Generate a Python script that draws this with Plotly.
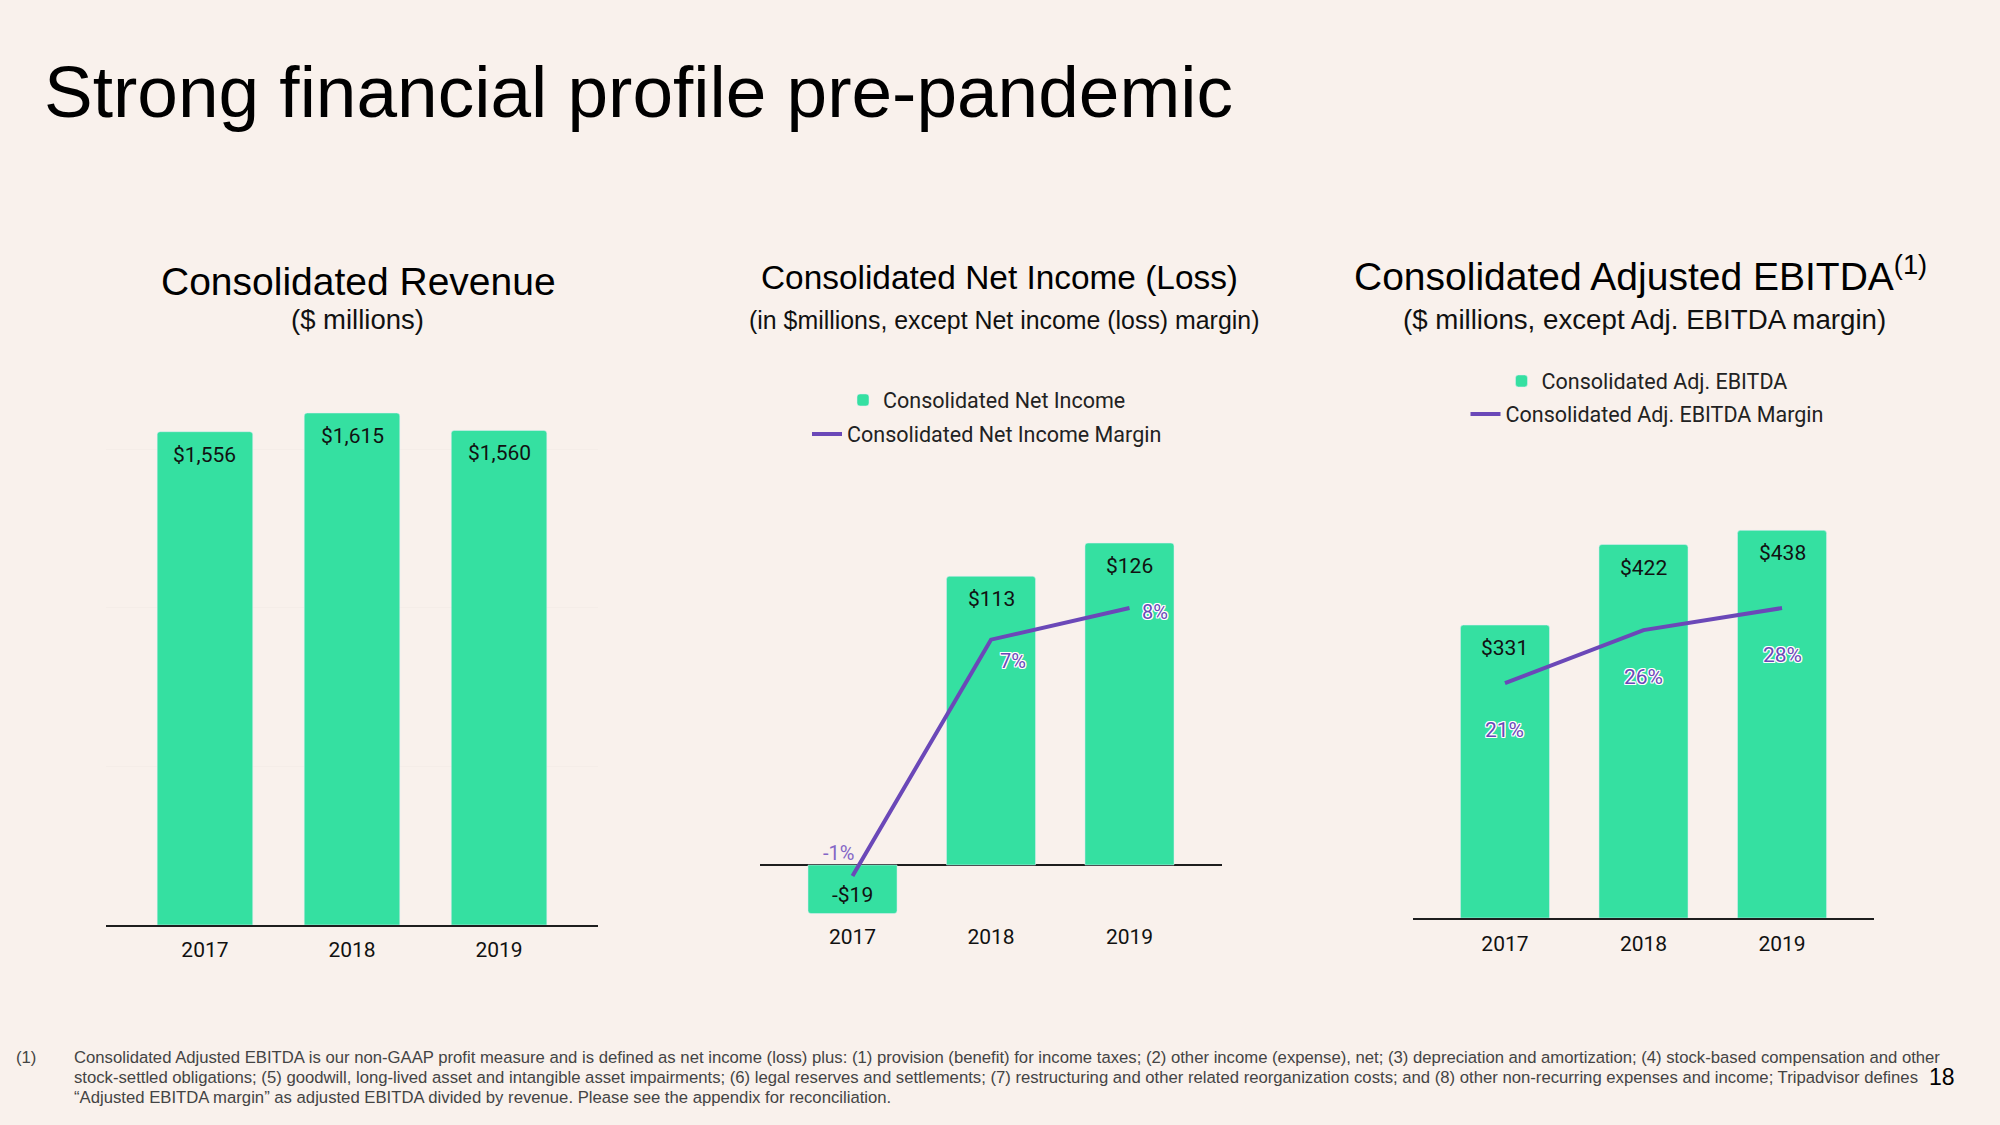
import plotly.graph_objects as go

# ---------------- data ----------------
years = ["2017", "2018", "2019"]
revenue = [1556, 1615, 1560]
net_income = [-19, 113, 126]
net_income_margin = [-1.2, 7.0, 8.1]
adj_ebitda = [331, 422, 438]
adj_ebitda_margin = [21.3, 26.1, 28.1]

# ---------------- styles ----------------
BG = "#F9F1EC"
GREEN = "#35E0A1"
PURPLE = "#6B48B8"
LIGHT_PURPLE = "#8466C6"
DARK = "#1E1E1E"
W, H = 2000, 1125
HEAD = "Liberation Sans, Arial, Helvetica, sans-serif"
BODY = "Roboto, Noto Sans, sans-serif"
OUTLINE = ("white 1px 1px 0, white -1px -1px 0, white 1px -1px 0, white -1px 1px 0, "
           "white 0 1px 0, white 0 -1px 0, white 1px 0 0, white -1px 0 0")


def px_x(p):
    return p / W


def px_y(p):
    return 1 - p / H


def money(v):
    return ("-$" if v < 0 else "$") + f"{abs(v):,}"


fig = go.Figure()

# Revenue
fig.add_trace(go.Bar(x=years, y=revenue, marker=dict(color=GREEN, cornerradius=3),
                     width=0.65, xaxis="x", yaxis="y", showlegend=False, hoverinfo="x+y"))
# Net income
fig.add_trace(go.Bar(x=years, y=net_income, name="Consolidated Net Income",
                     marker=dict(color=GREEN, cornerradius=3), width=0.643,
                     xaxis="x2", yaxis="y2", legend="legend"))
fig.add_trace(go.Scatter(x=years, y=net_income_margin, name="Consolidated Net Income Margin",
                         mode="lines", line=dict(color=PURPLE, width=4),
                         xaxis="x2", yaxis="y4", legend="legend2"))
# Adjusted EBITDA
fig.add_trace(go.Bar(x=years, y=adj_ebitda, name="Consolidated Adj. EBITDA",
                     marker=dict(color=GREEN, cornerradius=3), width=0.643,
                     xaxis="x3", yaxis="y3", legend="legend3"))
fig.add_trace(go.Scatter(x=years, y=adj_ebitda_margin, name="Consolidated Adj. EBITDA Margin",
                         mode="lines", line=dict(color=PURPLE, width=4),
                         xaxis="x3", yaxis="y5", legend="legend4"))

annotations = []

# bar value labels (x given as category index)
for xr, yr, vals in (("x", "y", revenue), ("x2", "y2", net_income), ("x3", "y3", adj_ebitda)):
    for i, v in enumerate(vals):
        annotations.append(dict(x=i, y=v, xref=xr, yref=yr, text=money(v), showarrow=False,
                                yanchor="middle", yshift=(-23 if v >= 0 else 19),
                                font=dict(family=BODY, size=21, color="#111")))

# margin labels (net income)
ni_shift = [(-14, 23), (22, -21), (26, -4)]
for i, v in enumerate(net_income_margin):
    sx, sy = ni_shift[i]
    f = dict(family=BODY, size=20, color=PURPLE)
    if v < 0:
        f["color"] = LIGHT_PURPLE
    else:
        f["shadow"] = OUTLINE
    annotations.append(dict(x=i, y=v, xref="x2", yref="y4", text=f"{v:.0f}%",
                            showarrow=False, xshift=sx, yshift=sy, font=f))
# margin labels (EBITDA)
for i, v in enumerate(adj_ebitda_margin):
    annotations.append(dict(x=i, y=v, xref="x3", yref="y5", text=f"{v:.0f}%",
                            showarrow=False, yshift=-47,
                            font=dict(family=BODY, size=21, color=PURPLE, shadow=OUTLINE)))

# titles
texts = [
    ("Strong financial profile pre-pandemic", 42, 92, 73, "left", "#000"),
    ("Consolidated Revenue", 358, 281, 39, "center", "#000"),
    ("($ millions)", 357, 319, 27.5, "center", "#111"),
    ("Consolidated Net Income (Loss)", 999, 278, 33.4, "center", "#000"),
    ("(in $millions, except Net income (loss) margin)", 1004, 320, 24.9, "center", "#111"),
    ("Consolidated Adjusted EBITDA<sup>(1)</sup>", 1640, 273, 39, "center", "#000"),
    ("($ millions, except Adj. EBITDA margin)", 1644, 319, 27.7, "center", "#111"),
]
for t, x, y, s, anc, c in texts:
    annotations.append(dict(x=px_x(x), y=px_y(y), xref="paper", yref="paper", text=t,
                            showarrow=False, xanchor=anc, yanchor="middle",
                            font=dict(family=HEAD, size=s, color=c)))

foot_lines = [
    "Consolidated Adjusted EBITDA is our non-GAAP profit measure and is defined as net income (loss) plus: "
    "(1) provision (benefit) for income taxes; (2) other income (expense), net; (3) depreciation and "
    "amortization; (4) stock-based compensation and other",
    "stock-settled obligations; (5) goodwill, long-lived asset and intangible asset impairments; (6) legal "
    "reserves and settlements; (7) restructuring and other related reorganization costs; and (8) other "
    "non-recurring expenses and income; Tripadvisor defines",
    "\u201cAdjusted EBITDA margin\u201d as adjusted EBITDA divided by revenue. Please see the appendix for reconciliation.",
]
for line, yy in zip(foot_lines, (1057, 1077, 1097)):
    annotations.append(dict(x=px_x(72), y=px_y(yy), xref="paper", yref="paper", text=line,
                            showarrow=False, xanchor="left", yanchor="middle", align="left",
                            font=dict(family=HEAD, size=16.7, color="#444")))
annotations.append(dict(x=px_x(14), y=px_y(1057), xref="paper", yref="paper", text="(1)",
                        showarrow=False, xanchor="left", yanchor="middle",
                        font=dict(family=HEAD, size=16.7, color="#444")))
annotations.append(dict(x=px_x(1942), y=px_y(1077), xref="paper", yref="paper", text="18",
                        showarrow=False, xanchor="center", yanchor="middle",
                        font=dict(family=HEAD, size=23, color="#000")))

xcommon = dict(type="category", showgrid=False, zeroline=False, ticks="",
               tickfont=dict(family=BODY, size=21, color="#111"), linecolor=DARK, linewidth=1.5,
               fixedrange=True)
ycommon = dict(showticklabels=False, ticks="", showline=False, fixedrange=True)

legend_common = dict(bgcolor="rgba(0,0,0,0)", xanchor="center", yanchor="middle",
                     font=dict(family=BODY, size=21.5, color="#222"), orientation="v",
                     itemclick=False, itemdoubleclick=False)

fig.update_layout(
    width=W, height=H, margin=dict(l=0, r=0, t=0, b=0),
    paper_bgcolor=BG, plot_bgcolor=BG, barmode="group",
    xaxis=dict(xcommon, domain=[px_x(106), px_x(598)], range=[-0.673, 2.673], anchor="y",
               showline=True, ticklabelstandoff=5),
    yaxis=dict(ycommon, domain=[px_y(925), px_y(400)], range=[0, 1656], showgrid=True,
               gridcolor="#F5EDE8", gridwidth=1, dtick=500, tick0=0, zeroline=False, anchor="x"),
    xaxis2=dict(xcommon, domain=[px_x(760), px_x(1222)], range=[-0.668, 2.668], anchor="y2",
                showline=False, ticklabelstandoff=8),
    yaxis2=dict(ycommon, domain=[px_y(914), px_y(480)], range=[-19.18, 150.68], showgrid=False,
                zeroline=True, zerolinecolor=DARK, zerolinewidth=1.5, anchor="x2"),
    yaxis4=dict(ycommon, overlaying="y2", range=[-2.519, 12.54], visible=False, showgrid=False,
                zeroline=False, anchor="x2"),
    xaxis3=dict(xcommon, domain=[px_x(1413), px_x(1874)], range=[-0.664, 2.664], anchor="y3",
                showline=True, ticklabelstandoff=6),
    yaxis3=dict(ycommon, domain=[px_y(918), px_y(480)], range=[0, 494.9], showgrid=False,
                zeroline=False, anchor="x3"),
    yaxis5=dict(ycommon, overlaying="y3", range=[0, 39.71], visible=False, showgrid=False,
                zeroline=False, anchor="x3"),
    legend=dict(legend_common, x=px_x(987), y=px_y(400)),
    legend2=dict(legend_common, x=px_x(987), y=px_y(434)),
    legend3=dict(legend_common, x=px_x(1647), y=px_y(381)),
    legend4=dict(legend_common, x=px_x(1647), y=px_y(414)),
    annotations=annotations,
    showlegend=True,
)

fig.write_html(
    "out.html",
    config=dict(displayModeBar=False),
    post_script="document.body.style.margin='0px';document.body.style.background='#F9F1EC';",
)
